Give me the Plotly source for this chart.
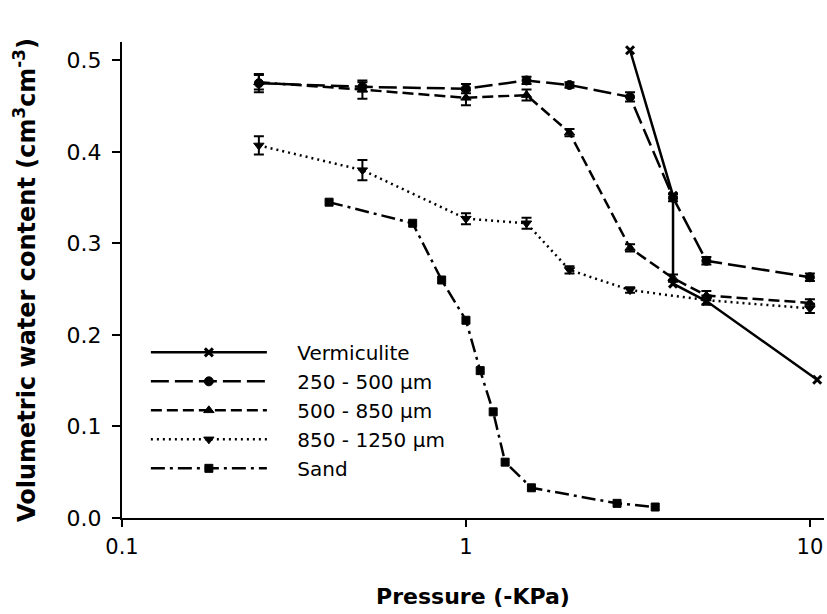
import plotly.graph_objects as go

# ---- data ----
verm_x = [3.0, 4.0, 4.0, 5.0, 10.5]
verm_y = [0.511, 0.352, 0.256, 0.237, 0.151]

s250_x = [0.25, 0.5, 1.0, 1.5, 2.0, 3.0, 4.0, 5.0, 10.0]
s250_y = [0.475, 0.471, 0.469, 0.478, 0.473, 0.460, 0.350, 0.281, 0.263]
s250_e = [0.010, 0.005, 0.005, 0.004, 0.003, 0.005, 0.004, 0.004, 0.004]

s500_x = [0.25, 0.5, 1.0, 1.5, 2.0, 3.0, 4.0, 5.0, 10.0]
s500_y = [0.476, 0.468, 0.459, 0.462, 0.421, 0.295, 0.262, 0.243, 0.235]
s500_e = [0.008, 0.010, 0.008, 0.006, 0.004, 0.004, 0.004, 0.005, 0.004]

s850_x = [0.25, 0.5, 1.0, 1.5, 2.0, 3.0, 5.0, 10.0]
s850_y = [0.407, 0.380, 0.327, 0.322, 0.271, 0.249, 0.238, 0.229]
s850_e = [0.010, 0.011, 0.006, 0.006, 0.004, 0.003, 0.005, 0.005]

sand_x = [0.4, 0.7, 0.85, 1.0, 1.1, 1.2, 1.3, 1.55, 2.75, 3.55]
sand_y = [0.345, 0.322, 0.260, 0.216, 0.161, 0.116, 0.061, 0.033, 0.016, 0.012]

series_names = ["Vermiculite", "250 - 500 µm", "500 - 850 µm", "850 - 1250 µm", "Sand"]

x_tickvals = [0.1, 1, 10]
x_ticktext = ["0.1", "1", "10"]
y_tickvals = [0.0, 0.1, 0.2, 0.3, 0.4, 0.5]

FONT = "DejaVu Sans"
LW = 2.5
PAD = "\u00a0" * 4  # gap between legend sample and label

fig = go.Figure()

def add(x, y, name, dash, symbol, size, err=None, mlw=1):
    kw = {}
    if err is not None:
        kw["error_y"] = dict(type="data", array=err, visible=True,
                             color="black", thickness=2, width=5)
    fig.add_trace(go.Scatter(
        x=x, y=y, name=PAD + name, mode="lines+markers",
        line=dict(color="black", width=LW, dash=dash),
        marker=dict(symbol=symbol, size=size, color="black",
                    line=dict(color="black", width=mlw)),
        **kw))

add(verm_x, verm_y, series_names[0], "solid", "x-thin-open", 8, mlw=3)
add(s250_x, s250_y, series_names[1], "18px,6px", "circle", 9, s250_e)
add(s500_x, s500_y, series_names[2], "11px,5px", "triangle-up", 9, s500_e)
add(s850_x, s850_y, series_names[3], "2px,4px", "triangle-down", 9, s850_e)
add(sand_x, sand_y, series_names[4], "14px,5px,3px,5px", "square", 8)

fig.update_layout(
    width=827, height=614,
    margin=dict(l=122, r=3, t=42, b=96),
    paper_bgcolor="white", plot_bgcolor="white",
    font=dict(family=FONT, size=21, color="black"),
    showlegend=True,
    legend=dict(x=0.034, y=0.389, xanchor="left", yanchor="top",
                bgcolor="rgba(0,0,0,0)", itemwidth=116,
                font=dict(family=FONT, size=20), tracegroupgap=0),
    xaxis=dict(type="log", range=[-1, 1.041],
               tickvals=x_tickvals, ticktext=x_ticktext,
               tickfont=dict(size=21), ticklabelstandoff=2,
               ticks="outside", ticklen=7, tickwidth=2, tickcolor="black",
               showline=True, linecolor="black", linewidth=2,
               showgrid=False, zeroline=False,
               title=dict(text="<b>Pressure (-KPa)</b>", font=dict(size=22), standoff=30)),
    yaxis=dict(range=[0, 0.52], tickvals=y_tickvals, tickformat=".1f",
               tickfont=dict(size=22), ticklabelstandoff=6,
               ticks="outside", ticklen=8, tickwidth=2, tickcolor="black",
               showline=True, linecolor="black", linewidth=2,
               showgrid=False, zeroline=False,
               title=dict(text="<b>Volumetric water content (cm<sup>3</sup>cm<sup>-3</sup>)</b>",
                          font=dict(size=24), standoff=24)),
)

fig.write_html("out.html")
